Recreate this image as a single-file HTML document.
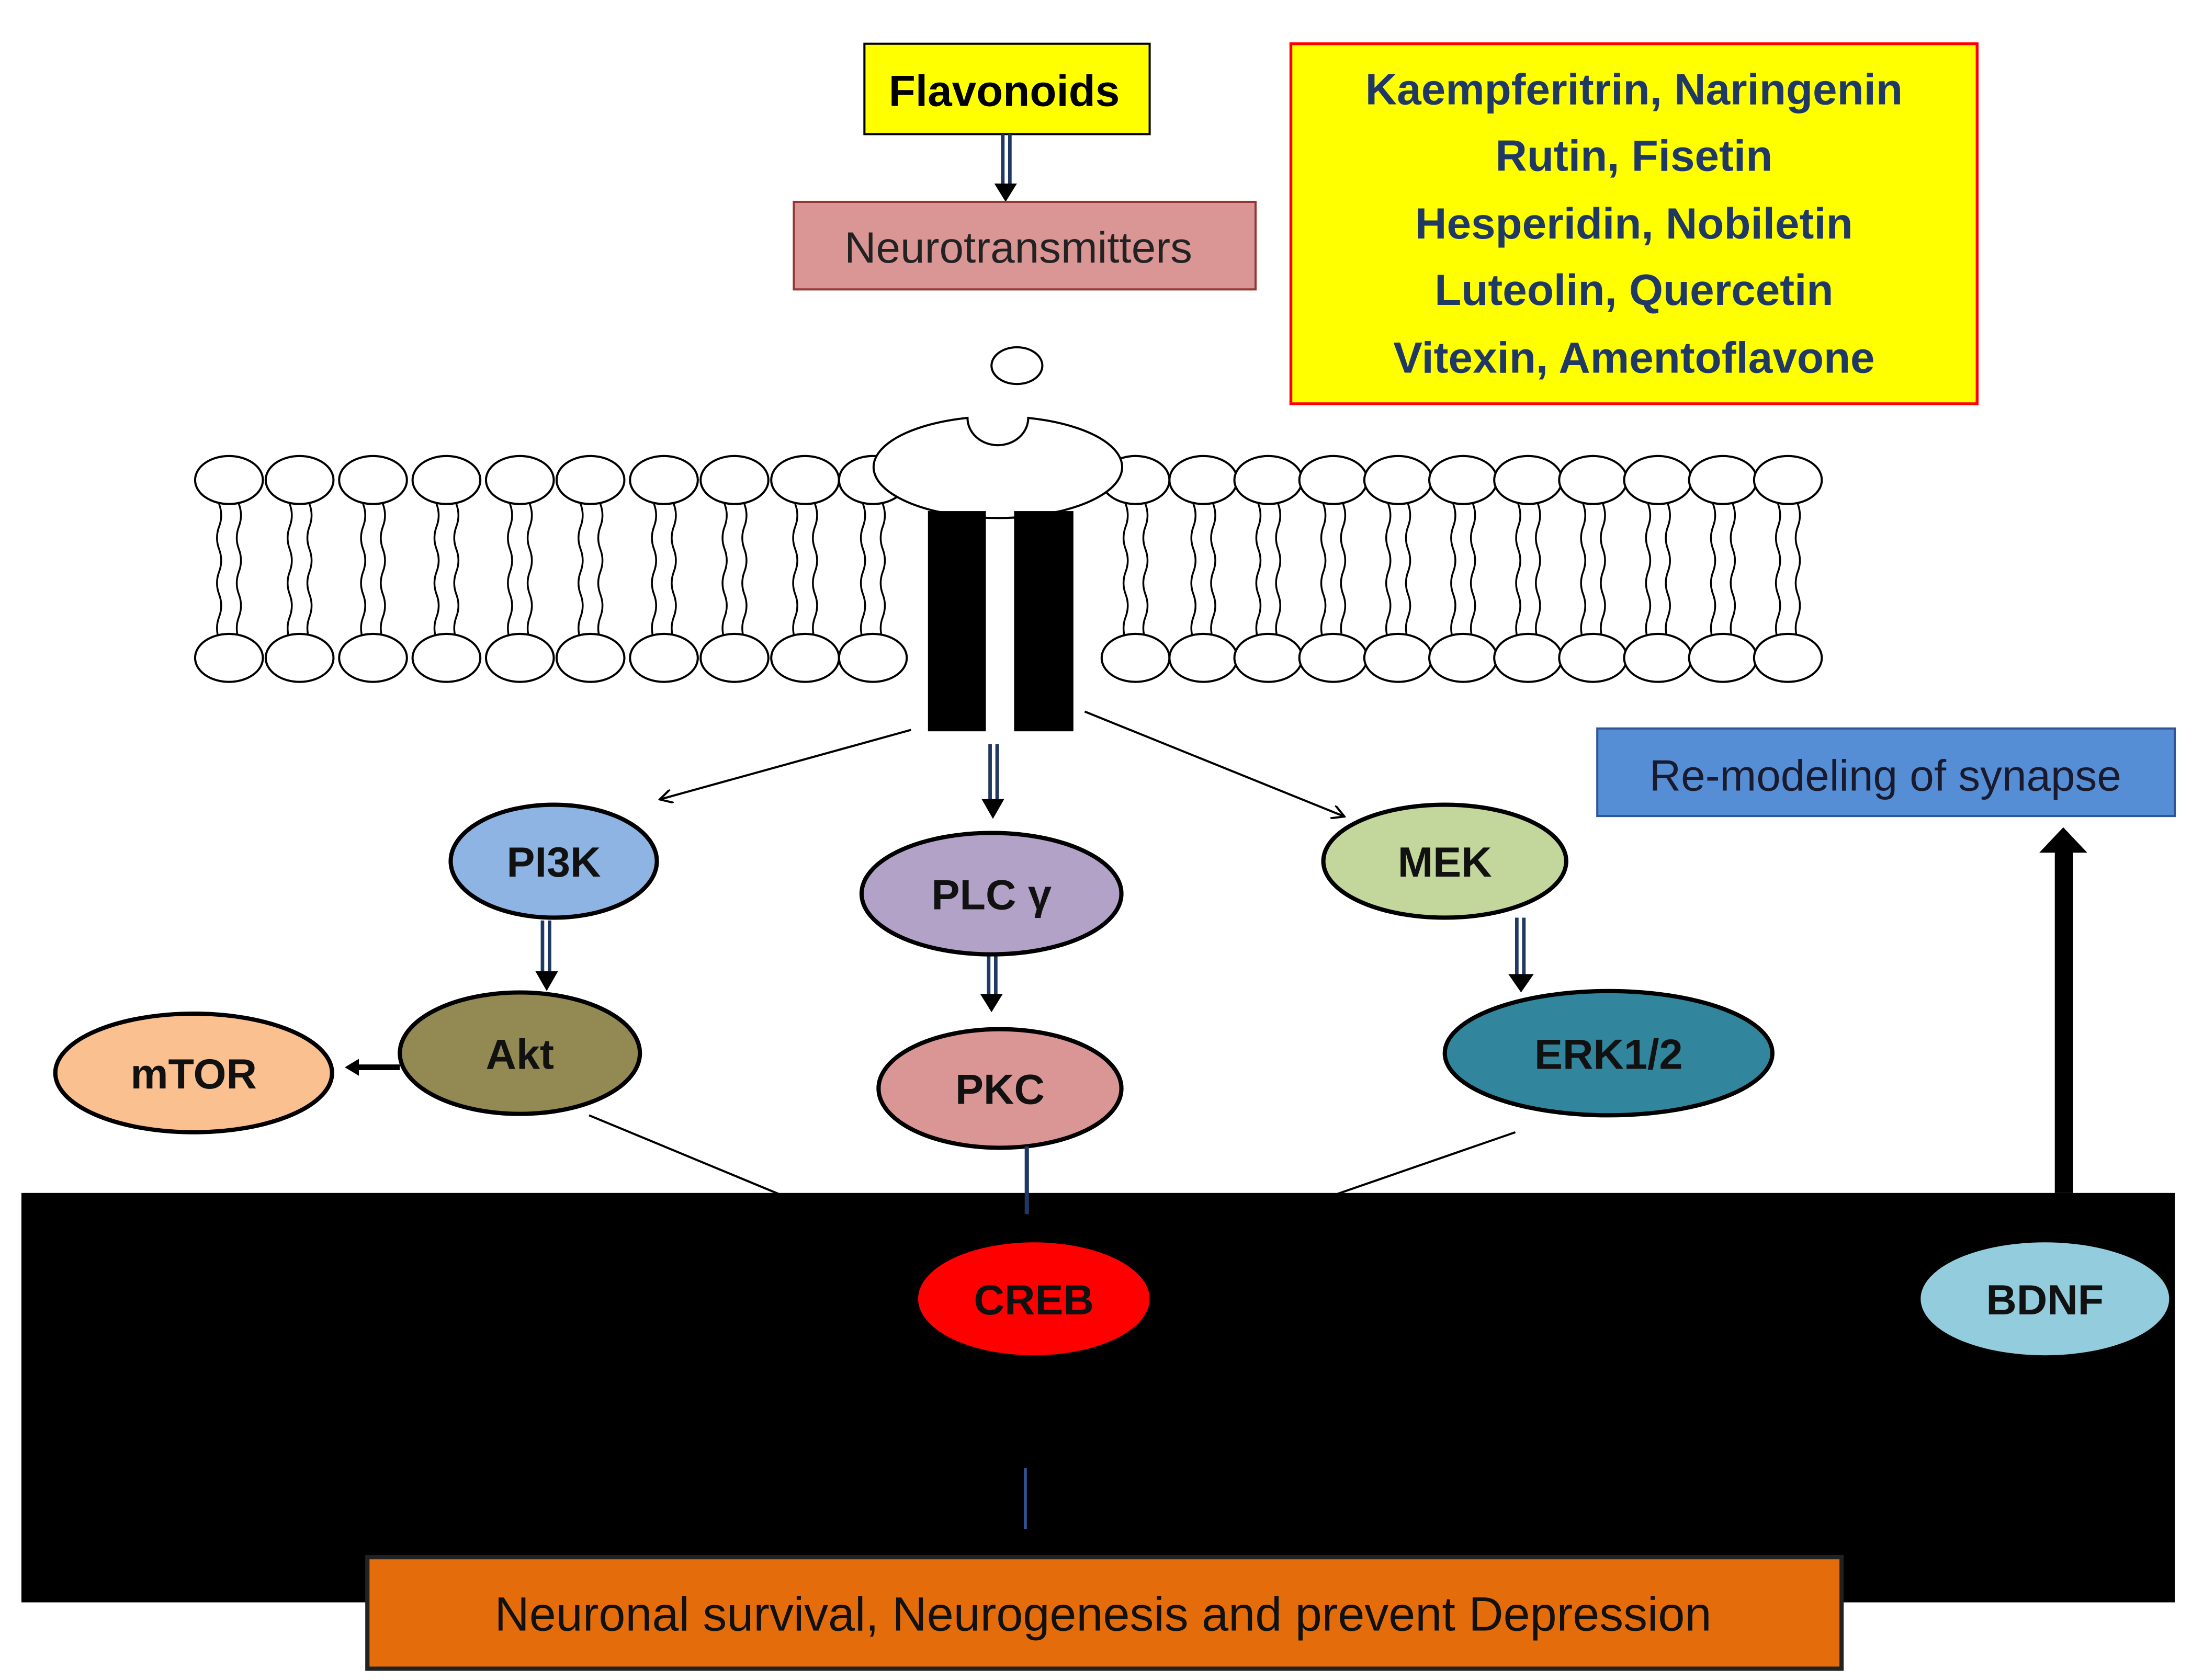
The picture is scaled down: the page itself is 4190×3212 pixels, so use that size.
<!DOCTYPE html>
<html><head><meta charset="utf-8"><style>
html,body{margin:0;padding:0;background:#fff}
svg{display:block}
text{font-family:"Liberation Sans",sans-serif}
</style></head><body>
<svg width="4190" height="3212" viewBox="0 0 1552 1190" xmlns="http://www.w3.org/2000/svg">
<defs>
<marker id="ah" markerWidth="10" markerHeight="10" refX="8" refY="5" orient="auto" markerUnits="userSpaceOnUse"><path d="M0,0 L9,5 L0,10" fill="none" stroke="#000" stroke-width="1.5"/></marker>
<marker id="ahb" markerWidth="14" markerHeight="14" refX="7" refY="7" orient="auto" markerUnits="userSpaceOnUse"><path d="M0,0 L14,7 L0,14 z" fill="#000"/></marker>
<g id="lip"><ellipse cx="0" cy="0" rx="24" ry="17" fill="#fff" stroke="#000" stroke-width="1.5"/>
<path d="M-7,17 q3,8 0,16 q-3,8 0,16 q3,8 0,16 q-3,8 0,16 q3,8 0,16 q-3,8 0,16" fill="none" stroke="#000" stroke-width="1.3"/>
<path d="M7,17 q3,8 0,16 q-3,8 0,16 q3,8 0,16 q-3,8 0,16 q3,8 0,16 q-3,8 0,16" fill="none" stroke="#000" stroke-width="1.3"/>
<ellipse cx="0" cy="126" rx="24" ry="17" fill="#fff" stroke="#000" stroke-width="1.5"/></g>
</defs>
<rect width="1552" height="1190" fill="#fff"/>
<!-- Flavonoids -->
<rect x="612" y="31" width="202" height="64" fill="#ffff00" stroke="#000" stroke-width="1.5"/>
<text x="711" y="75" font-size="31" font-weight="bold" text-anchor="middle">Flavonoids</text>
<path d="M710,95 V132 M715,95 V132" stroke="#1f3864" stroke-width="2.5"/>
<path d="M704,130 L712,143 L720,130 z" fill="#000"/>
<rect x="562" y="143" width="327" height="62" fill="#d99694" stroke="#943634" stroke-width="1.5"/>
<text x="721" y="186" font-size="31" text-anchor="middle" fill="#222">Neurotransmitters</text>
<!-- list box -->
<rect x="914" y="31" width="486" height="255" fill="#ffff00" stroke="#ff0000" stroke-width="2"/>
<g font-size="31" font-weight="bold" fill="#1f3864" text-anchor="middle">
<text x="1157" y="74">Kaempferitrin,  Naringenin</text>
<text x="1157" y="121">Rutin,  Fisetin</text>
<text x="1157" y="169">Hesperidin,  Nobiletin</text>
<text x="1157" y="216">Luteolin,  Quercetin</text>
<text x="1157" y="264">Vitexin,  Amentoflavone</text>
</g>
<ellipse cx="720" cy="259" rx="18" ry="13" fill="#fff" stroke="#000" stroke-width="1.5"/>
<!-- membrane -->
<g>
<use href="#lip" x="162" y="340"/><use href="#lip" x="212" y="340"/><use href="#lip" x="264" y="340"/><use href="#lip" x="316" y="340"/><use href="#lip" x="368" y="340"/><use href="#lip" x="418" y="340"/><use href="#lip" x="470" y="340"/><use href="#lip" x="520" y="340"/><use href="#lip" x="570" y="340"/><use href="#lip" x="618" y="340"/>
<use href="#lip" x="804" y="340"/><use href="#lip" x="852" y="340"/><use href="#lip" x="898" y="340"/><use href="#lip" x="944" y="340"/><use href="#lip" x="990" y="340"/><use href="#lip" x="1036" y="340"/><use href="#lip" x="1082" y="340"/><use href="#lip" x="1128" y="340"/><use href="#lip" x="1174" y="340"/><use href="#lip" x="1220" y="340"/><use href="#lip" x="1266" y="340"/>
</g>
<!-- receptor -->
<path d="M685,296 A88,36 0 1,0 728,296 A20,18 0 0,1 685,296 z" fill="#fff" stroke="#000" stroke-width="1.5"/>
<rect x="657" y="362" width="41" height="156" fill="#000"/>
<rect x="718" y="362" width="42" height="156" fill="#000"/>
<!-- arrows from receptor -->
<line x1="645" y1="517" x2="468" y2="566" stroke="#000" stroke-width="1.5" marker-end="url(#ah)"/>
<line x1="768" y1="504" x2="951" y2="578" stroke="#000" stroke-width="1.5" marker-end="url(#ah)"/>
<path d="M701,527 V568 M706,527 V568" stroke="#1f3864" stroke-width="2.5"/>
<path d="M695,566 L703,580 L711,566 z" fill="#000"/>
<path d="M384,652 V690 M389,652 V690" stroke="#1f3864" stroke-width="2.5"/>
<path d="M379,688 L387,702 L395,688 z" fill="#000"/>
<path d="M700,674 V706 M705,674 V706" stroke="#1f3864" stroke-width="2.5"/>
<path d="M694,704 L702,717 L710,704 z" fill="#000"/>
<path d="M1074,650 V692 M1079,650 V692" stroke="#1f3864" stroke-width="2.5"/>
<path d="M1068,690 L1077,703 L1086,690 z" fill="#000"/>
<line x1="283" y1="756" x2="252" y2="756" stroke="#000" stroke-width="4"/>
<path d="M254,750 L244,756 L254,762 z" fill="#000"/>
<!-- ellipses -->
<g stroke="#000" stroke-width="3">
<ellipse cx="392" cy="610" rx="73" ry="40" fill="#8eb4e3"/>
<ellipse cx="702" cy="633" rx="92" ry="43" fill="#b3a2c7"/>
<ellipse cx="1023" cy="610" rx="86" ry="40" fill="#c3d69b"/>
<ellipse cx="368" cy="746" rx="85" ry="43" fill="#938953"/>
<ellipse cx="137" cy="760" rx="98" ry="42" fill="#fac090"/>
<ellipse cx="708" cy="771" rx="86" ry="42" fill="#d99694"/>
<ellipse cx="1139" cy="746" rx="116" ry="44" fill="#31859c"/>
</g>
<g font-size="30" font-weight="bold" text-anchor="middle" fill="#111">
<text x="392" y="621">PI3K</text>
<text x="702" y="644">PLC γ</text>
<text x="1023" y="621">MEK</text>
<text x="368" y="757">Akt</text>
<text x="137" y="771">mTOR</text>
<text x="708" y="782">PKC</text>
<text x="1139" y="757">ERK1/2</text>
</g>
<!-- remodeling -->
<rect x="1131" y="516" width="409" height="62" fill="#558ed5" stroke="#2f5597" stroke-width="1.5"/>
<text x="1335" y="560" font-size="31" text-anchor="middle" fill="#1a1a2e">Re-modeling of synapse</text>
<!-- lines to nucleus -->
<line x1="417" y1="790" x2="552" y2="846" stroke="#000" stroke-width="1.5"/>
<line x1="1073" y1="802" x2="946" y2="846" stroke="#000" stroke-width="1.5"/>
<line x1="727" y1="812" x2="727" y2="860" stroke="#1f3864" stroke-width="3"/>
<!-- black region -->
<rect x="15" y="845" width="1525" height="290" fill="#000"/>
<line x1="727" y1="845" x2="727" y2="860" stroke="#1f3864" stroke-width="3"/>
<line x1="726" y1="1040" x2="726" y2="1083" stroke="#2f5597" stroke-width="2"/>
<rect x="1455" y="600" width="13" height="245" fill="#000"/>
<path d="M1444,604 L1461,586 L1478,604 z" fill="#000"/>
<ellipse cx="732" cy="920" rx="82" ry="40" fill="#ff0000"/>
<text x="732" y="931" font-size="30" font-weight="bold" text-anchor="middle" fill="#111">CREB</text>
<ellipse cx="1448" cy="920" rx="88" ry="40" fill="#93cddd"/>
<text x="1448" y="931" font-size="30" font-weight="bold" text-anchor="middle" fill="#111">BDNF</text>
<!-- outcome -->
<rect x="260" y="1103" width="1044" height="79" fill="#e46c0a" stroke="#222" stroke-width="3"/>
<text x="781" y="1155" font-size="34" text-anchor="middle" fill="#111">Neuronal survival, Neurogenesis and prevent Depression</text>
</svg>
</body></html>
